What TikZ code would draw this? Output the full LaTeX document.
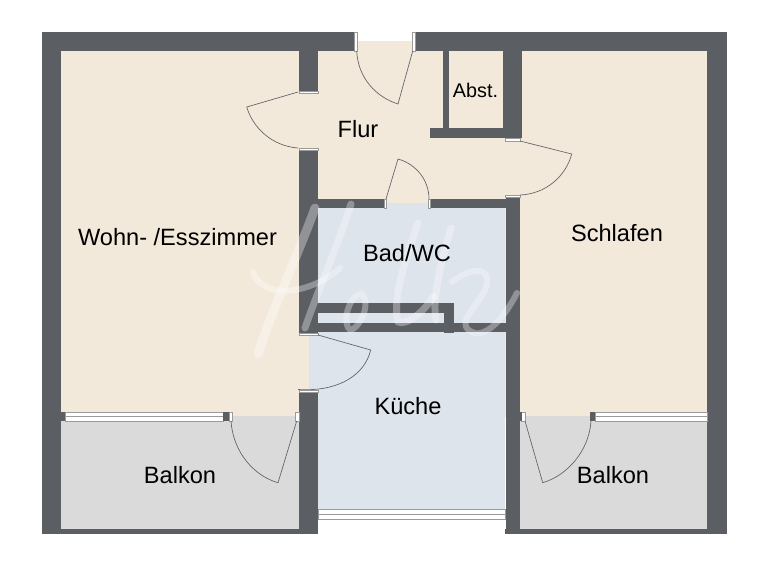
\documentclass[tikz,border=0pt]{standalone}
\usepackage{fontspec}
\setmainfont{Liberation Sans}
\definecolor{wallc}{HTML}{5B5E63}
\definecolor{beigec}{HTML}{F2E9DB}
\definecolor{bluec}{HTML}{DEE4EC}
\definecolor{grayc}{HTML}{DADADA}
\definecolor{linec}{HTML}{66676A}
\definecolor{sillc}{HTML}{9A9A9A}
\tikzset{x=1pt,y=-1pt,
 wall/.style={fill=wallc,draw=none},
 floorb/.style={fill=beigec,draw=none},
 floorw/.style={fill=bluec,draw=none},
 floorg/.style={fill=grayc,draw=none},
 doorline/.style={draw=linec,line width=0.7pt,fill=none},
 sill/.style={fill=white,draw=sillc,line width=0.5pt},
 glass/.style={fill=white,draw=sillc,line width=0.9pt},
 room/.style={font=\fontsize{23.6}{26}\selectfont,text=black,inner sep=0pt},
 smallroom/.style={font=\fontsize{19.8}{22}\selectfont,text=black,inner sep=0pt},
 wmark/.style={draw=white,opacity=0.33,line cap=round,line join=round},
}
\begin{document}
\begin{tikzpicture}
\useasboundingbox (0,0) rectangle (768,560);
% floors
\fill[floorb] (61,51) rectangle (299,417);
\fill[floorb] (299,51) rectangle (505,208);
\fill[floorb] (358,41) rectangle (414,52);
\fill[floorb] (299,333) rectangle (310,392);
\fill[floorb] (505,51) rectangle (707,417);
\fill[floorw] (318,207) rectangle (505,333);
\fill[floorw] (309,333) rectangle (505,510);
\fill[floorw] (385,203) -- (429,203) -- (429,208) -- (385,208) -- cycle;
\fill[floorg] (61,416) rectangle (299,529);
\fill[floorg] (520,416) rectangle (707,529);
% outer walls
\fill[wall] (42,32) rectangle (355,51);
\fill[wall] (415,32) rectangle (727,51);
\fill[wall] (42,32) rectangle (61,534);
\fill[wall] (707,32) rectangle (727,534);
\fill[wall] (42,529) rectangle (318,534);
\fill[wall] (505,529) rectangle (727,534);
\fill[wall] (299,392) rectangle (318,534);
\fill[wall] (505.5,197) rectangle (520,534);
% flur walls
\fill[wall] (298.5,51) rectangle (318,91);
\fill[wall] (298.5,149) rectangle (318,334);
\fill[wall] (443,51) rectangle (449,128);
\fill[wall] (503,51) rectangle (522,133);
\fill[wall] (430,128) rectangle (522,138);
\fill[wall] (318,199) rectangle (385,208);
\fill[wall] (429,199) rectangle (505.5,208);
% bad duct
\fill[wall] (318,303) rectangle (454,313);
\fill[wall] (444,303) rectangle (454,333);
\fill[wall] (318,323) rectangle (505.5,332);
\fill[floorw] (318,313) rectangle (444,323);
% sills
\path[sill] (354.5,32) rectangle (357.5,51);
\path[sill] (412.5,32) rectangle (415.5,51);
\path[sill] (299,91) rectangle (318,93);
\path[sill] (299,148) rectangle (318,150);
\path[sill] (505.5,138) rectangle (520,141);
\path[sill] (505.5,195) rectangle (520,197.5);
\path[sill] (384,199) rectangle (386.5,208);
\path[sill] (428,199) rectangle (430.5,208);
\path[sill] (299,333) rectangle (318,335.5);
\path[sill] (299,390) rectangle (318,392.5);
% windows
\fill[wall] (57,412) rectangle (65,421);
\path[glass] (65,412) rectangle (223,421);
\draw[sillc,line width=0.9pt] (65,416.5) -- (223,416.5);
\fill[wall] (223,412) rectangle (229,421);
\path[sill] (229,412) rectangle (232,421);
\path[sill] (295,412) rectangle (299,421);
\path[glass] (595,412) rectangle (707,421);
\draw[sillc,line width=0.9pt] (595,416.5) -- (707,416.5);
\fill[wall] (590,412) rectangle (595,421);
\path[sill] (521,412) rectangle (525.5,421);
\fill[wall] (520,412) rectangle (521.5,421);
\path[glass] (318,509.5) rectangle (505.5,519);
\draw[sillc,line width=0.9pt] (318,514) -- (505.5,514);
% doors
\coordinate (d1h) at (412.7,51);
\coordinate (d1t) at (398,104);
\coordinate (d1e) at (356.7,51);
\draw[doorline] (d1h) -- (d1t) .. controls (376,97) and (358,78) .. (d1e);
\coordinate (d2h) at (298,92);
\coordinate (d2t) at (246.7,107);
\coordinate (d2e) at (298,148);
\draw[doorline] (d2h) -- (d2t) .. controls (253,128) and (272,146) .. (d2e);
\coordinate (d3h) at (520,141);
\coordinate (d3t) at (571.7,154);
\coordinate (d3e) at (520,195);
\draw[doorline] (d3h) -- (d3t) .. controls (566,176) and (546,194) .. (d3e);
\coordinate (d4h) at (386,199);
\coordinate (d4t) at (398,159);
\coordinate (d4e) at (429,199);
\draw[doorline] (d4h) -- (d4t) .. controls (416,164) and (429,180) .. (d4e);
\coordinate (d5h) at (318,335);
\coordinate (d5t) at (370.7,350);
\coordinate (d5e) at (298,389.5);
\draw[doorline] (d5h) -- (d5t) .. controls (365,374) and (340,392) .. (d5e);
\coordinate (d6h) at (296.7,421);
\coordinate (d6t) at (278,482.7);
\coordinate (d6e) at (231,421);
\draw[doorline] (d6h) -- (d6t) .. controls (254,476) and (233,452) .. (d6e);
\coordinate (d7h) at (525,421);
\coordinate (d7t) at (542.7,482.7);
\coordinate (d7e) at (591,421);
\draw[doorline] (d7h) -- (d7t) .. controls (566,476) and (589,452) .. (d7e);
% watermark
\draw[wmark,line width=9pt] (315,208) .. controls (298,255) and (272,310) .. (258,354);
\draw[wmark,line width=7pt] (351,204) .. controls (340,240) and (318,290) .. (305,328);
\draw[wmark,line width=6pt] (253,272) .. controls (262,300) and (310,295) .. (340,268);
\draw[wmark,line width=6pt] (350,330) .. controls (340,320) and (352,292) .. (362,294) .. controls (372,305) and (358,330) .. (350,330);
\draw[wmark,line width=7pt] (418,223) .. controls (405,260) and (392,300) .. (398,322) .. controls (408,326) and (425,310) .. (434,296);
\draw[wmark,line width=7pt] (451,228) .. controls (440,265) and (432,300) .. (436,320);
\draw[wmark,line width=6pt] (452,282) .. controls (470,268) and (490,265) .. (487,285) .. controls (480,305) and (462,315) .. (466,327) .. controls (475,340) and (495,335) .. (517,293);
% labels
\node[room] (wohn) at (177.5,237) {Wohn- /Esszimmer};
\node[room] (flur) at (358,129) {Flur};
\node[room] (bad) at (407,253) {Bad/WC};
\node[room] (kueche) at (408,406) {Küche};
\node[room] (schlafen) at (617,233) {Schlafen};
\node[room] (balkonl) at (180,475) {Balkon};
\node[room] (balkonr) at (613,475) {Balkon};
\node[smallroom] (abst) at (475.5,90) {Abst.};
\end{tikzpicture}
\end{document}
